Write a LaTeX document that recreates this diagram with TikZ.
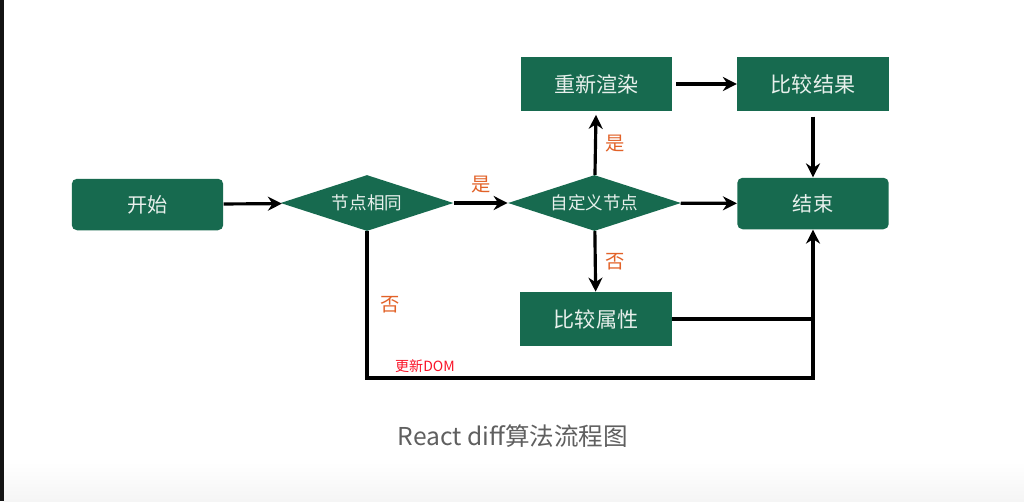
\documentclass[tikz,border=0pt]{standalone}
\usepackage{fontspec}
\setmainfont{Noto Sans CJK SC}
\usepackage{tikz}
\usetikzlibrary{arrows.meta}
\usetikzlibrary{calc}
\usetikzlibrary{shapes.geometric}

\definecolor{boxgreen}{RGB}{23,106,79}
\definecolor{boxtext}{RGB}{232,240,236}
\definecolor{yesno}{RGB}{226,98,40}
\definecolor{domred}{RGB}{250,20,40}
\definecolor{capgray}{RGB}{95,95,95}

\begin{document}
\begin{tikzpicture}[x=0.02cm,y=-0.02cm,
        procbox/.style={fill=boxgreen,text=boxtext,inner sep=0pt,
            minimum width=3.03cm,minimum height=1.08cm,
            font=\fontsize{12}{14}\selectfont},
        endbox/.style={procbox,rounded corners=3pt,minimum height=1.03cm,
            font=\fontsize{11.5}{13}\selectfont},
        decide/.style={diamond,aspect=3.2,fill=boxgreen,text=boxtext,inner sep=0pt,
            minimum width=3.46cm,minimum height=1.12cm,
            font=\fontsize{10}{12}\selectfont},
        lbl/.style={text=yesno,inner sep=1pt,font=\fontsize{11}{12}\selectfont}]
        \useasboundingbox (0,0) rectangle (1024,501);
        \fill[white] (0,0) rectangle (1024,501);
        \shade[top color=white,bottom color=black!4] (3.5,462) rectangle (1024,501);
        \fill[black!92] (0,0) rectangle (3.5,501);

        \node[endbox]  (start)   at (147.5,204.5) {开始};
        \node[decide]  (same)    at (367,203)     {节点相同};
        \node[decide]  (custom)  at (594.5,203)   {自定义节点};
        \node[procbox] (render)  at (596.5,84)    {重新渲染};
        \node[procbox] (result)  at (813,84)      {比较结果};
        \node[endbox]  (end)     at (813,203.5)   {结束};
        \node[procbox] (props)   at (596,319)     {比较属性};
        \coordinate (loop) at (813,378);

        \node[text=capgray,font=\fontsize{14}{16}\selectfont] (caption) at (513,436) {React diff算法流程图};

        \begin{scope}[>={Stealth[length=8pt,width=8pt]},
                every edge/.style={draw=black,line width=1.8pt}]
            \path [->] (start)  edge (same);
            \path [->] (same)   edge node[lbl,above=4pt] {是} (custom);
            \path [->] (custom) edge (end);
            \path [->] (custom) edge[shorten >=2pt] node[lbl,right=4pt] {是} (render);
            \path [->] (custom) edge node[lbl,right=4pt] {否} (props);
            \path [->] (render) edge[shorten <=2pt] (result);
            \path [->] (result) edge[shorten <=3pt] (end);
            \draw [line width=1.8pt] (props.east) -- (props.east -| end.south);
            \draw [->,line width=1.8pt] (same.south) |- node[lbl,pos=0.25,right=6pt] {否}
                node[pos=0.565,above=2pt,text=domred,inner sep=0pt,font=\fontsize{8}{9}\selectfont] {更新DOM}
                (loop) -- (end.south);
        \end{scope}
\end{tikzpicture}
\end{document}
